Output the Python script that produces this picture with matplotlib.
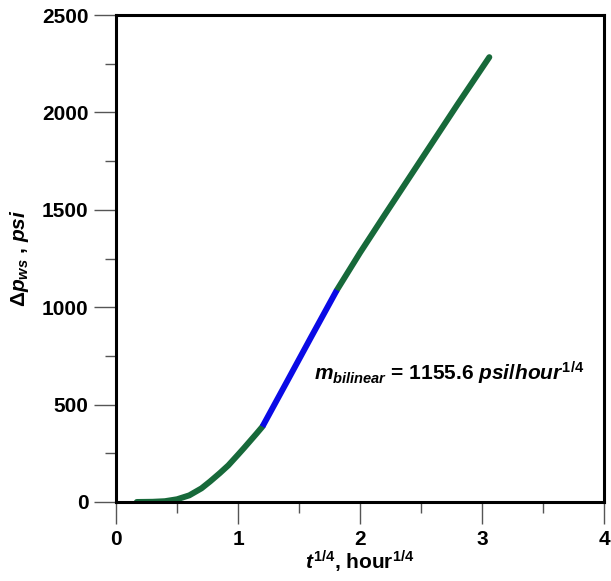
import matplotlib
matplotlib.use('Agg')
import matplotlib.pyplot as plt
from matplotlib.ticker import MultipleLocator

plt.rcParams['font.family'] = ['Liberation Sans', 'DejaVu Sans']
plt.rcParams['font.weight'] = 'bold'
plt.rcParams['mathtext.fontset'] = 'custom'
plt.rcParams['mathtext.rm'] = 'Liberation Sans:bold'
plt.rcParams['mathtext.it'] = 'Liberation Sans:italic:bold'
plt.rcParams['mathtext.bf'] = 'Liberation Sans:bold'
plt.rcParams['mathtext.sf'] = 'Liberation Sans'

# early green part
t_early = [0.17, 0.30, 0.40, 0.50, 0.60, 0.70, 0.77, 0.85, 0.92, 1.00, 1.05, 1.10, 1.15, 1.20]
dp_early = [0, 1, 4, 14, 34, 70, 105, 148, 188, 243, 278, 314, 350, 387]
# bilinear flow (blue)
t_bil = [1.20, 1.40, 1.60, 1.81]
dp_bil = [387, 617, 848, 1088]
# late green part
t_late = [1.81, 2.00, 2.20, 2.40, 2.60, 2.80, 3.06]
dp_late = [1088, 1280, 1472, 1662, 1852, 2042, 2284]

green = '#17693a'
blue = '#0a0ae6'

fig = plt.figure(figsize=(6.11, 5.81), dpi=100)
ax = fig.add_axes([0.190, 0.136, 0.7985, 0.838])

ax.plot(t_early, dp_early, color=green, lw=4.3, solid_capstyle='round', solid_joinstyle='round')
ax.plot(t_late, dp_late, color=green, lw=4.3, solid_capstyle='round', solid_joinstyle='round')
ax.plot(t_bil, dp_bil, color=blue, lw=4.3, solid_capstyle='butt')

ax.set_xlim(0, 4)
ax.set_ylim(0, 2500)
ax.xaxis.set_major_locator(MultipleLocator(1))
ax.xaxis.set_minor_locator(MultipleLocator(0.5))
ax.yaxis.set_major_locator(MultipleLocator(500))
ax.yaxis.set_minor_locator(MultipleLocator(250))
ax.tick_params(which='major', length=16, width=1, color='#555555', labelsize=15, pad=4)
ax.tick_params(which='minor', length=8, width=1, color='#555555')
for lab in ax.get_xticklabels() + ax.get_yticklabels():
    lab.set_fontweight('bold')
for s in ax.spines.values():
    s.set_linewidth(2.2)

ax.set_xlabel(r'$t^{\mathrm{1/4}}$, hour$^{\mathrm{1/4}}$', fontsize=15, fontweight='bold', labelpad=0)
ax.set_ylabel(r'$\mathsf{\Delta}p_{ws}$ , $psi$', fontsize=15, fontweight='bold', labelpad=8)

ax.text(1.62, 660, r'$m_{bilinear}$ = 1155.6 $psi$/$hour^{\mathrm{1/4}}$', fontsize=15,
        fontweight='bold', va='center', ha='left')

fig.savefig('out.png', dpi=100)
